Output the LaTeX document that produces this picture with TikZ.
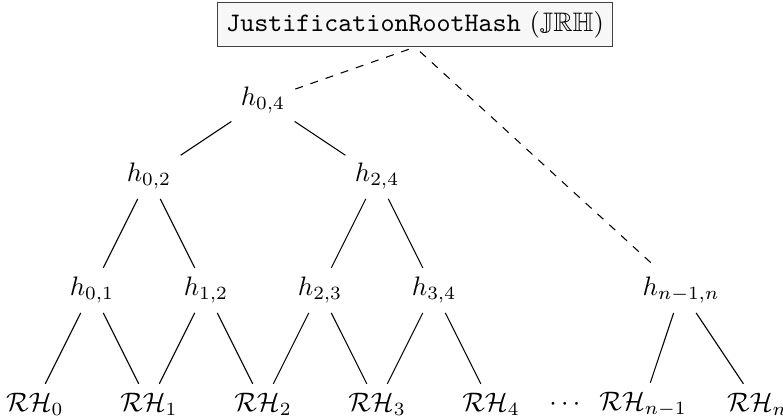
\documentclass[tikz,border=0pt]{standalone}
\usepackage{amsmath,amssymb}
\usepackage{tikz}

\begin{document}
\begin{tikzpicture}[
  rootbox/.style={draw=black!75,fill=gray!6},
  link/.style={dashed}]
 \useasboundingbox (-0.46,-0.16) rectangle (9.84,5.32);
 % root of the justification tree
 \node[rootbox] (jrh) at (5,5) {\texttt{JustificationRootHash} ($\mathbb{JRH}$)};
 % inner hashes
 \node (h04) at (3,4) {$h_{0,4}$};
 \node (h02) at (1.5,3) {$h_{0,2}$};
 \node (h24) at (4.5,3) {$h_{2,4}$};
 \node (h01) at (0.75,1.5) {$h_{0,1}$};
 \node (h12) at (2.25,1.5) {$h_{1,2}$};
 \node (h23) at (3.75,1.5) {$h_{2,3}$};
 \node (h34) at (5.25,1.5) {$h_{3,4}$};
 \node (hn) at (8.5,1.5) {$h_{n-1,n}$};
 % leaves
 \node (r0) at (0,0) {$\mathcal{RH}_0$};
 \node (r1) at (1.5,0) {$\mathcal{RH}_1$};
 \node (r2) at (3,0) {$\mathcal{RH}_2$};
 \node (r3) at (4.5,0) {$\mathcal{RH}_3$};
 \node (r4) at (6,0) {$\mathcal{RH}_4$};
 \node (dots) at (7,0) {$\cdots$};
 \node (rm) at (8,0) {$\mathcal{RH}_{n-1}$};
 \node (rn) at (9.5,0) {$\mathcal{RH}_n$};
 % edges
 \foreach \a/\b in {h04/h02,h04/h24,h02/h01,h02/h12,h24/h23,h24/h34,
   h01/r0,h01/r1,h12/r1,h12/r2,h23/r2,h23/r3,h34/r3,h34/r4,hn/rm,hn/rn}
   \draw (\a) -- (\b);
 \draw[link,shorten <=2.5pt] (jrh.south) -- (h04);
 \draw[link,shorten <=2.5pt] (jrh.south) -- (hn);
\end{tikzpicture}
\end{document}
